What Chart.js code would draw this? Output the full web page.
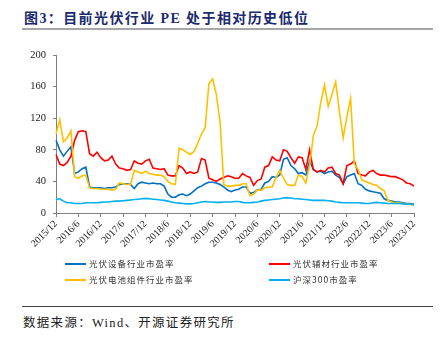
<!DOCTYPE html>
<html lang="zh-CN">
<head>
  <meta charset="UTF-8">
  <title>图3 光伏行业PE</title>
  <script src="https://cdn.jsdelivr.net/npm/chart.js"></script>
  <style>
    body { margin: 0; background: #fff; }
    #wrap { position: relative; width: 443px; height: 345px; overflow: hidden; font-family: "Liberation Serif", "Noto Sans CJK SC", serif; }
    #title { position: absolute; left: 24px; top: 7px; font-size: 14px; font-weight: bold; color: #1c2a6e; letter-spacing: 1.4px; white-space: nowrap; }
    #rule1 { position: absolute; left: 22px; top: 28px; width: 411px; height: 2px; background: #a6a6a6; }
    #graf { position: absolute; left: 0; top: 0; }
    .lg { position: absolute; font-size: 8.5px; color: #333; letter-spacing: 1px; white-space: nowrap; font-family: "Noto Sans CJK SC", sans-serif; }
    .lg i { display: inline-block; width: 21px; height: 2px; vertical-align: middle; margin-right: 3px; position: relative; top: -1px; }
    #rule2 { position: absolute; left: 22px; top: 306px; width: 411px; height: 1px; background: #444; }
    #fonte { position: absolute; left: 23px; top: 312px; font-size: 12.5px; color: #222; letter-spacing: 1.3px; white-space: nowrap; }
  </style>
</head>
<body>
<div id="wrap">
  <div id="title">图3：目前光伏行业 PE 处于相对历史低位</div>
  <div id="rule1"></div>
  <canvas id="graf" width="443" height="262"></canvas>
  <div class="lg" style="left:65px; top:257px"><i style="background:#0070C0"></i>光伏设备行业市盈率</div>
  <div class="lg" style="left:269px; top:257px"><i style="background:#FF0000"></i>光伏辅材行业市盈率</div>
  <div class="lg" style="left:65px; top:273px"><i style="background:#FFC000"></i>光伏电池组件行业市盈率</div>
  <div class="lg" style="left:269px; top:273px"><i style="background:#00B0F0"></i>沪深300市盈率</div>
  <div id="rule2"></div>
  <div id="fonte">数据来源：Wind、开源证券研究所</div>
</div>

<script>
  // meses de 2015/12 a 2023/12
  const meses = [];
  for (let m = 0; m <= 96; m++) {
    const ano = 2015 + Math.floor((11 + m) / 12);
    const mes = (11 + m) % 12 + 1;
    meses.push(ano + '/' + mes);
  }

  const serieNomes = ['光伏设备行业市盈率', '光伏辅材行业市盈率', '光伏电池组件行业市盈率', '沪深300市盈率'];

  const peEquip = [
    92, 80, 72, 78, 84, 50, 52, 56, 58, 33, 32, 32, 32, 31, 32, 32, 33, 36, 37, 37, 36, 31, 37, 39, 38,
    37, 38, 37, 37, 34, 24, 20, 20, 23, 24, 22, 24, 28, 32, 34, 37, 39, 39, 38, 36, 33, 29, 27, 29,
    30, 33, 33, 25, 26, 29, 30, 38, 40, 46, 45, 48, 68, 70, 60, 56, 50, 51, 48, 66, 55, 52, 53, 50,
    52, 53, 48, 45, 37, 46, 48, 50, 37, 35, 30, 28, 27, 26, 25, 18, 16, 15, 14, 14, 13, 12, 12, 11
  ];
  const peAux = [
    74, 62, 60, 64, 72, 92, 103, 104, 103, 75, 72, 77, 70, 66, 67, 72, 62, 57, 56, 54, 55, 66, 63, 62, 66,
    68, 57, 56, 55, 56, 48, 47, 47, 60, 57, 50, 52, 50, 52, 69, 67, 44, 42, 40, 43, 45, 47, 46, 44,
    44, 50, 47, 45, 35, 41, 43, 58, 60, 71, 67, 66, 80, 78, 70, 63, 71, 70, 55, 80, 55, 52, 54, 52,
    57, 58, 50, 48, 37, 60, 62, 66, 50, 48, 47, 52, 54, 50, 48, 48, 47, 46, 46, 44, 42, 38, 37, 34
  ];
  const peCelula = [
    100, 118, 90, 95, 104, 46, 44, 47, 48, 32, 31, 31, 30, 30, 30, 29, 30, 38, 37, 36, 36, 54, 52, 50, 53,
    50, 49, 48, 48, 46, 40, 37, 36, 82, 80, 77, 74, 78, 88, 100, 108, 164, 170, 150, 115, 36, 34, 34, 35,
    35, 37, 37, 22, 24, 29, 29, 32, 33, 33, 45, 54, 44, 36, 35, 35, 48, 46, 38, 60, 98, 110, 140, 162,
    135, 150, 166, 128, 95, 122, 145, 62, 55, 42, 40, 38, 36, 35, 31, 28, 16, 14, 13, 13, 12, 11, 11, 10
  ];
  const peHs300 = [
    17, 18, 15, 13, 13, 12, 12, 12, 13, 13, 13, 13, 13.5, 14, 14, 14.5, 15, 15, 15.5, 16, 16.5, 17, 17.5, 18, 18.5,
    18, 17.5, 17, 16.5, 16, 15, 14, 13, 12.5, 12, 11.5, 11.5, 12, 13, 14, 14.5, 14, 14, 13.5, 13.5, 14, 14, 14, 14.5,
    14.5, 13.5, 13, 13, 13.5, 14, 15, 16, 16.5, 17, 17.5, 18, 19, 19.5, 19, 18, 18, 17.5, 17, 16.5, 16, 16, 16, 16,
    15.5, 15, 14, 13.5, 13, 13, 13, 13, 13, 12.5, 12, 12, 13, 13.5, 13, 12.5, 12, 12, 12, 12, 11.5, 11, 11, 10.5
  ];

  const yTicks = [0, 40, 80, 120, 160, 200];

  const cores = ['#0070C0', '#FF0000', '#FFC000', '#00B0F0'];
  const valores = [peEquip, peAux, peCelula, peHs300];
  const ordem = [3, 2, 1, 0];

  const ctx = document.getElementById('graf').getContext('2d');
  const chart = new Chart(ctx, {
    type: 'line',
    data: {
      labels: meses,
      datasets: valores.map((v, i) => ({
        label: serieNomes[i],
        data: v,
        borderColor: cores[i],
        backgroundColor: cores[i],
        borderWidth: 1.6,
        pointRadius: 0,
        tension: 0,
        order: ordem[i]
      }))
    },
    options: {
      responsive: false,
      animation: false,
      devicePixelRatio: 1,
      layout: { padding: { top: 55, right: 29, left: 0, bottom: 0 } },
      plugins: { legend: { display: false }, tooltip: { enabled: false } },
      scales: {
        x: {
          grid: { drawOnChartArea: false, drawTicks: true, tickLength: 4, color: '#808080' },
          border: { color: '#808080', width: 1 },
          afterBuildTicks: s => { s.ticks = s.ticks.filter(t => t.value % 6 === 0); },
          afterFit: s => { s.height = 49; },
          ticks: {
            autoSkip: false, maxRotation: 45, minRotation: 45, padding: 1,
            color: '#222', font: { family: 'Liberation Serif', size: 10 }
          }
        },
        y: {
          min: 0, max: 200,
          afterBuildTicks: s => { s.ticks = yTicks.map(v => ({ value: v })); },
          afterFit: s => { s.width = 56; },
          grid: { drawOnChartArea: false, drawTicks: true, tickLength: 3, color: '#808080' },
          border: { color: '#808080', width: 1 },
          ticks: { padding: 7, color: '#222', font: { family: 'Liberation Serif', size: 10.5 } }
        }
      }
    }
  });
</script>
</body>
</html>
